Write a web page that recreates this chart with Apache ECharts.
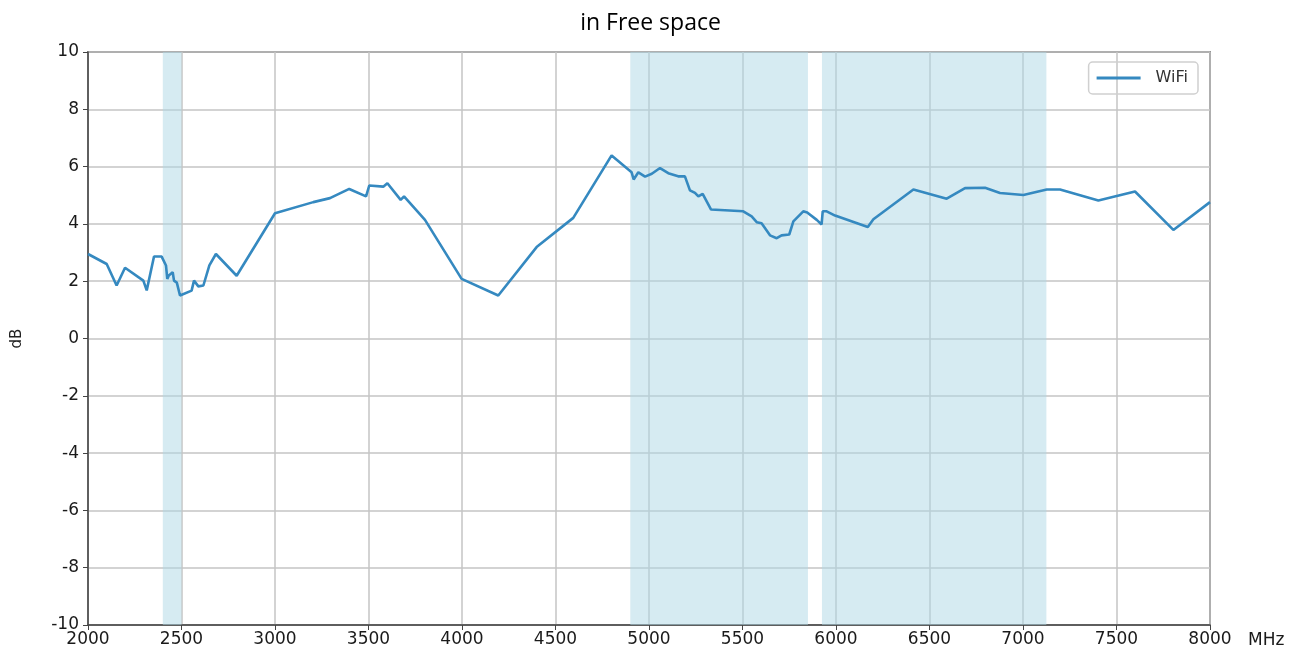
<!DOCTYPE html>
<html>
<head>
<meta charset="utf-8">
<script src="https://cdn.jsdelivr.net/npm/echarts@6/dist/echarts.min.js"></script>
<style>html,body{margin:0;padding:0;background:#fff;}#c{width:1301px;height:661px;}</style>
</head>
<body>
<div id="c"></div>
<script>
const title = 'in Free space';
const seriesName = 'WiFi';
const freqs = [2000,2100,2153,2198,2296,2314,2353,2394,2417,2424,2432,2453,2460,2475,2492,2554,2567,2590,2617,2649,2684,2795,
  3000,3205,3294,3397,3487,3504,3579,3601,3672,3690,3802,3998,4194,4399,4595,4800,4907,4918,4943,4979,5015,5059,5103,5156,5192,
  5219,5246,5264,5287,5332,5504,5549,5576,5602,5647,5683,5709,5750,5772,5825,5846,5897,5923,5929,5950,5995,6170,6200,6414,6592,
  6690,6797,6877,7002,7127,7198,7403,7599,7804,8000];
const dbVals = [2.95,2.6,1.85,2.47,2.02,1.68,2.86,2.86,2.55,2.08,2.2,2.31,2.02,1.95,1.5,1.67,2.02,1.82,1.85,2.55,2.95,2.19,
  4.37,4.76,4.9,5.22,4.96,5.34,5.3,5.42,4.84,4.96,4.14,2.08,1.5,3.19,4.21,6.39,5.8,5.55,5.8,5.65,5.75,5.95,5.77,5.66,5.66,
  5.17,5.08,4.96,5.05,4.5,4.44,4.26,4.06,4.02,3.6,3.5,3.6,3.63,4.09,4.44,4.4,4.14,3.98,4.44,4.44,4.29,3.89,4.16,5.2,4.88,
  5.25,5.26,5.08,5.01,5.2,5.2,4.82,5.13,3.79,4.76];
const bands = [[2400,2500],[4900,5850],[5925,7125]];
const xTicks = {min:2000, max:8000, interval:500};
const yTicks = {min:-10, max:10, interval:2};
const xUnit = 'MHz';

const chart = echarts.init(document.getElementById('c'));
const axisColor = '#444';
const labelFont = {fontFamily: 'DejaVu Sans', fontSize: 17, fontWeight: 500, color: '#1a1a1a'};
chart.setOption({
  animation: false,
  backgroundColor: '#fff',
  title: {
    text: title, left: 'center', top: 7,
    textStyle: {fontFamily: 'Open Sans', fontSize: 23, fontWeight: 'normal', color: '#000'}
  },
  legend: {
    right: 103, top: 62, orient: 'vertical',
    data: [seriesName],
    itemWidth: 44, itemHeight: 3, itemGap: 6,
    padding: [8, 10, 8, 8],
    borderColor: '#d0d0d0', borderWidth: 1.5, borderRadius: 4,
    textStyle: {fontFamily: 'DejaVu Sans', fontSize: 16, fontWeight: 500, color: '#333', padding: [0, 0, 0, 10]},
    icon: 'rect'
  },
  grid: {left: 88, right: 91, top: 52, bottom: 36, show: true, borderColor: axisColor, borderWidth: 1.5},
  xAxis: {
    type: 'value', min: xTicks.min, max: xTicks.max, interval: xTicks.interval,
    axisLine: {show: true, onZero: false, lineStyle: {color: axisColor, width: 1.5}},
    axisTick: {show: true, length: 5, lineStyle: {color: axisColor}},
    axisLabel: Object.assign({margin: 6, formatter: v => String(v)}, labelFont),
    splitLine: {show: true, lineStyle: {color: '#c4c4c4', width: 1.5}}
  },
  yAxis: {
    type: 'value', min: yTicks.min, max: yTicks.max, interval: yTicks.interval,
    name: 'dB', nameLocation: 'middle', nameGap: 63,
    nameTextStyle: {fontFamily: 'DejaVu Sans', fontSize: 15, color: '#222'},
    axisLine: {show: true, lineStyle: {color: axisColor, width: 1.5}},
    axisTick: {show: true, length: 5, lineStyle: {color: axisColor}},
    axisLabel: Object.assign({margin: 9}, labelFont),
    splitLine: {show: true, lineStyle: {color: '#c4c4c4', width: 1.5}}
  },
  graphic: [{
    type: 'text', left: 1248, top: 632,
    style: {text: xUnit, fontFamily: 'DejaVu Sans', fontSize: 17, fill: '#1a1a1a'}
  }],
  series: [{
    name: seriesName, type: 'line',
    data: freqs.map((f, i) => [f, dbVals[i]]),
    showSymbol: false, symbol: 'none',
    lineStyle: {color: '#3589c0', width: 2.6},
    itemStyle: {color: '#3589c0'},
    z: 5,
    markArea: {
      silent: true,
      itemStyle: {color: 'rgba(173,216,230,0.5)'},
      data: bands.map(b => [{xAxis: b[0]}, {xAxis: b[1]}])
    }
  }]
});
</script>
</body>
</html>
